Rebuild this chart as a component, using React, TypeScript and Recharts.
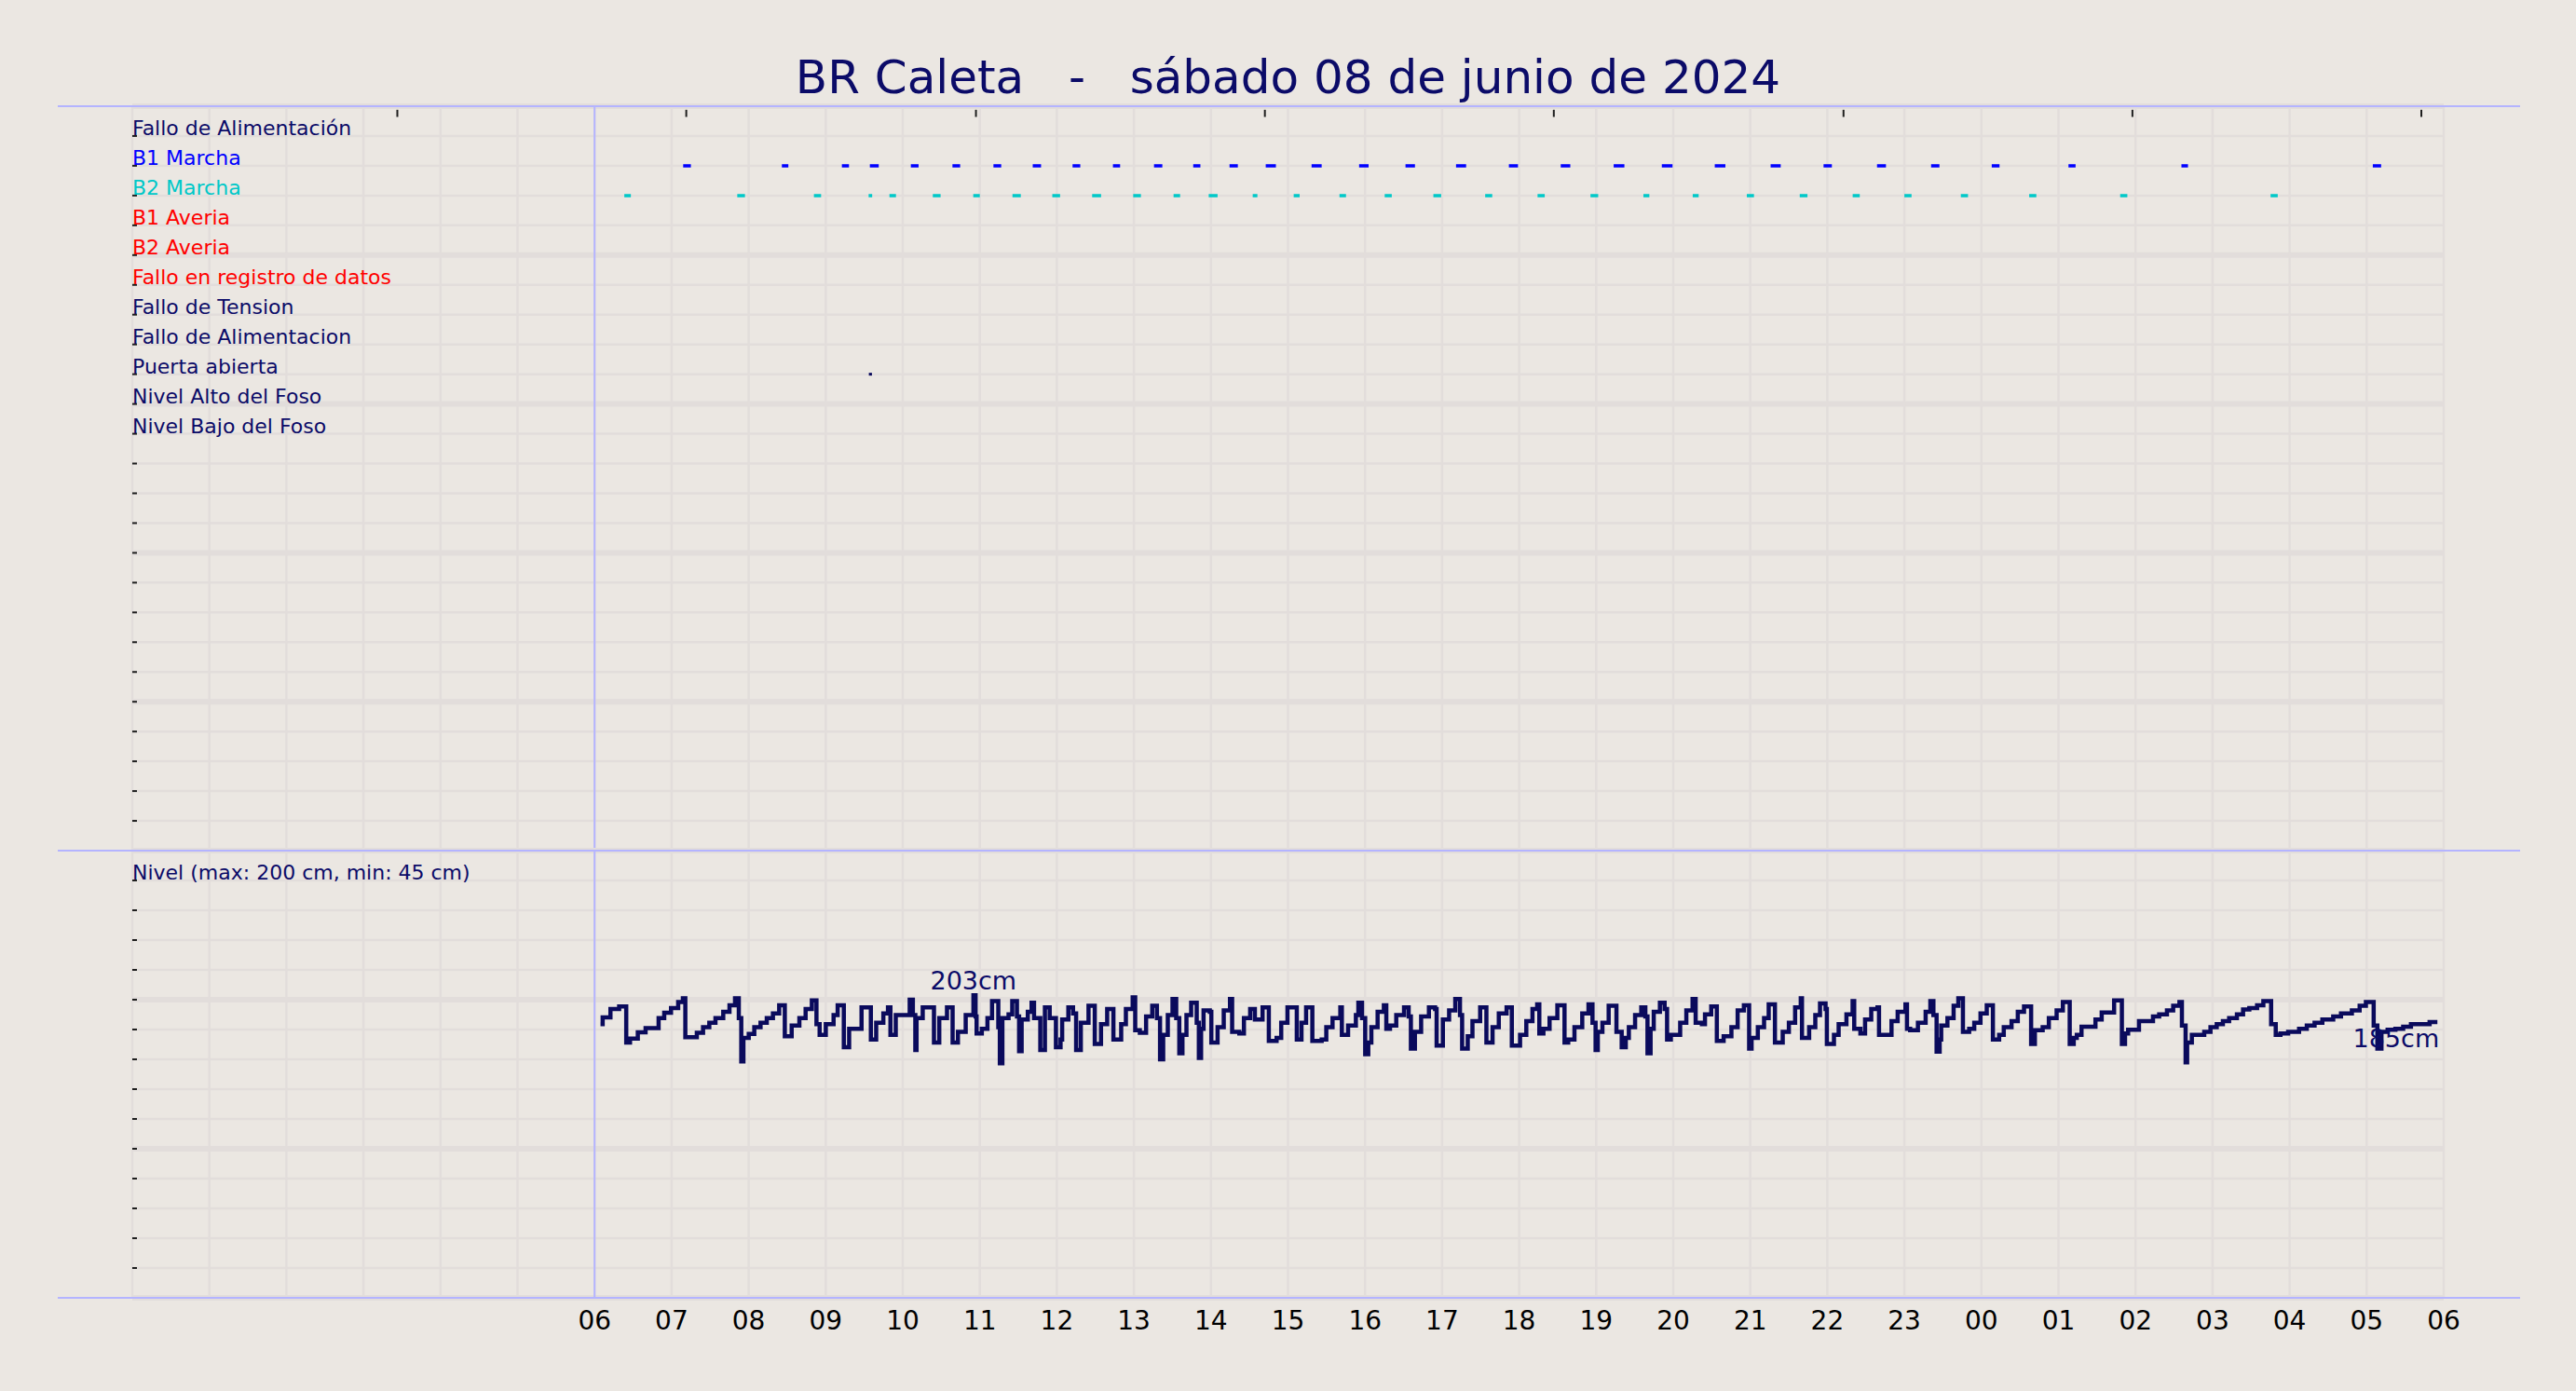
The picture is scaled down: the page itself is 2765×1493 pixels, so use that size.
import React from 'react';
import { LineChart, Line, XAxis, YAxis, CartesianGrid, ReferenceLine, ReferenceDot } from 'recharts';

const FONT = 'DejaVu Sans';
const BG = '#ebe7e2';
const GRID = '#e2dddb';
const FRAME = '#b4b4ff';
const NAVY = '#0b0b68';
const LINE_NAVY = '#0a0a5c';
const TICK_DARK = '#1e1e1e';
const TICK_LEN = 5;

const TITLE = 'BR Caleta   -   sábado 08 de junio de 2024';

// top panel rows (value = row index from top)
const ROW_VALUES = [1, 2, 3, 4, 5, 6, 7, 8, 9, 10, 11];
const ROW_LABELS = [
  'Fallo de Alimentación',
  'B1 Marcha',
  'B2 Marcha',
  'B1 Averia',
  'B2 Averia',
  'Fallo en registro de datos',
  'Fallo de Tension',
  'Fallo de Alimentacion',
  'Puerta abierta',
  'Nivel Alto del Foso',
  'Nivel Bajo del Foso',
];
const ROW_COLORS = [NAVY, '#0000ff', '#00c8c8', '#ff0000', '#ff0000', '#ff0000', NAVY, NAVY, NAVY, NAVY, NAVY];
const ROW_GRID = [0, 1, 2, 3, 4, 5, 6, 7, 8, 9, 10, 11, 12, 13, 14, 15, 16, 17, 18, 19, 20, 21, 22, 23, 24, 25];
const ROW_TICKS = [1, 2, 3, 4, 5, 6, 7, 8, 9, 10, 11, 12, 13, 14, 15, 16, 17, 18, 19, 20, 21, 22, 23, 24];

// time axis (hours from 00:00 of the day before the shown window start)
const HOUR_TICKS = [0, 1, 2, 3, 4, 5, 6, 7, 8, 9, 10, 11, 12, 13, 14, 15, 16, 17, 18, 19, 20, 21, 22, 23, 24, 25, 26, 27, 28, 29, 30];
const FIRST_LABELED_HOUR = 6;
const TOP_TICKS = [3.44, 7.19, 10.95, 14.7, 18.45, 22.21, 25.96, 29.71];
const TOP_TICK_FROM = 0.12;
const TOP_TICK_TO = 0.36;

// level axis
const LEVEL_GRID = [0, 20, 40, 60, 80, 100, 120, 140, 160, 180, 200, 220, 240, 260, 280, 300];
const LEVEL_TICKS = [20, 40, 60, 80, 100, 120, 140, 160, 180, 200, 220, 240, 260, 280];
const LEVEL_CAPTION = 'Nivel (max: 200 cm, min: 45 cm)';
const LEVEL_CAPTION_AT = 280;

// pump runs (hours)
const B1_START = [7.15, 8.431, 9.21, 9.573, 10.105, 10.645, 11.177, 11.687, 12.204, 12.728, 13.261, 13.77, 14.241, 14.711, 15.306, 15.923, 16.525, 17.181, 17.867, 18.54, 19.227, 19.852, 20.539, 21.264, 21.951, 22.645, 23.347, 24.134, 25.13, 26.596, 29.08];
const B1_END = [7.25, 8.515, 9.302, 9.688, 10.205, 10.745, 11.278, 11.795, 12.304, 12.821, 13.369, 13.863, 14.349, 14.843, 15.437, 16.046, 16.648, 17.312, 17.985, 18.664, 19.366, 19.991, 20.677, 21.395, 22.059, 22.761, 23.455, 24.235, 25.222, 26.681, 29.188];
const B2_START = [6.386, 7.852, 8.847, 9.557, 9.827, 10.39, 10.915, 11.424, 11.941, 12.458, 12.991, 13.515, 13.971, 14.542, 15.074, 15.668, 16.255, 16.887, 17.559, 18.239, 18.926, 19.613, 20.253, 20.955, 21.642, 22.329, 23.0, 23.733, 24.62, 25.801, 27.753];
const B2_END = [6.471, 7.952, 8.94, 9.603, 9.912, 10.491, 11.0, 11.532, 12.042, 12.574, 13.091, 13.6, 14.086, 14.603, 15.151, 15.753, 16.347, 16.988, 17.651, 18.332, 19.026, 19.69, 20.33, 21.048, 21.742, 22.421, 23.093, 23.826, 24.713, 25.894, 27.846];
const DOOR_START = [9.56];
const DOOR_END = [9.6];

// level (cm), step values
const LEVEL_T = [
  6.077, 6.105, 6.206, 6.319, 6.411, 6.46, 6.561, 6.662, 6.831, 6.904, 6.992, 7.085, 7.146, 7.178, 7.327, 7.408, 7.489, 7.569, 7.67, 7.751,
  7.823, 7.872, 7.904, 7.932, 8.001, 8.073, 8.154, 8.235, 8.315, 8.396, 8.469, 8.558, 8.658, 8.739, 8.82, 8.88, 8.921, 9.001, 9.102, 9.155,
  9.235, 9.304, 9.465, 9.586, 9.655, 9.748, 9.808, 9.84, 9.909, 10.09, 10.131, 10.163, 10.179, 10.259, 10.405, 10.474, 10.574, 10.647, 10.716, 10.817,
  10.917, 10.945, 10.958, 11.026, 11.099, 11.159, 11.24, 11.26, 11.293, 11.373, 11.421, 11.482, 11.51, 11.543, 11.623, 11.672, 11.704, 11.785, 11.845, 11.907,
  11.988, 12.048, 12.069, 12.149, 12.21, 12.25, 12.311, 12.411, 12.492, 12.573, 12.653, 12.734, 12.835, 12.896, 12.984, 13.017, 13.077, 13.158, 13.238, 13.299,
  13.339, 13.38, 13.44, 13.501, 13.549, 13.589, 13.63, 13.682, 13.743, 13.815, 13.843, 13.872, 13.904, 13.985, 14.005, 14.086, 14.166, 14.247, 14.275, 14.368,
  14.428, 14.509, 14.57, 14.67, 14.751, 14.852, 14.912, 14.993, 15.114, 15.175, 15.235, 15.316, 15.437, 15.497, 15.578, 15.679, 15.699, 15.78, 15.881, 15.913,
  15.961, 16.002, 16.042, 16.082, 16.163, 16.244, 16.276, 16.324, 16.405, 16.506, 16.566, 16.595, 16.647, 16.728, 16.829, 16.909, 16.929, 17.01, 17.091, 17.171,
  17.232, 17.26, 17.333, 17.394, 17.494, 17.575, 17.655, 17.736, 17.837, 17.905, 18.012, 18.093, 18.173, 18.234, 18.262, 18.315, 18.395, 18.496, 18.589, 18.637,
  18.718, 18.819, 18.9, 18.952, 18.992, 19.021, 19.081, 19.162, 19.263, 19.331, 19.384, 19.424, 19.505, 19.585, 19.638, 19.666, 19.706, 19.747, 19.827, 19.888,
  19.92, 19.969, 20.09, 20.17, 20.251, 20.291, 20.372, 20.412, 20.493, 20.566, 20.654, 20.755, 20.836, 20.917, 20.985, 21.017, 21.098, 21.179, 21.239, 21.32,
  21.421, 21.501, 21.582, 21.655, 21.671, 21.764, 21.844, 21.905, 21.977, 21.994, 22.086, 22.147, 22.248, 22.328, 22.349, 22.429, 22.49, 22.57, 22.651, 22.671,
  22.833, 22.913, 23.014, 23.034, 23.075, 23.176, 23.276, 23.337, 23.377, 23.418, 23.458, 23.478, 23.559, 23.639, 23.7, 23.76, 23.841, 23.907, 23.988, 24.069,
  24.149, 24.23, 24.29, 24.391, 24.472, 24.553, 24.645, 24.694, 24.795, 24.875, 24.976, 25.057, 25.146, 25.198, 25.238, 25.299, 25.48, 25.561, 25.722, 25.823,
  25.864, 25.904, 26.045, 26.227, 26.307, 26.408, 26.489, 26.57, 26.602, 26.65, 26.67, 26.731, 26.892, 26.973, 27.054, 27.134, 27.215, 27.316, 27.396, 27.477,
  27.578, 27.659, 27.76, 27.82, 27.881, 27.981, 28.123, 28.223, 28.324, 28.425, 28.566, 28.667, 28.808, 28.909, 28.99, 29.091, 29.139, 29.192, 29.272, 29.373,
  29.474, 29.575, 29.817, 29.918,
];
const LEVEL_CM = [
  183.6, 188.1, 193.8, 195.5, 171.3, 173.9, 178.1, 180.9, 187.7, 191.2, 194.3, 198.4, 201.0, 174.8, 177.8, 181.5, 184.6, 187.7, 191.8, 196.3,
  201.0, 187.7, 158.6, 174.4, 177.0, 181.5, 184.6, 187.7, 190.8, 196.3, 175.4, 182.6, 187.7, 193.8, 199.6, 183.6, 176.4, 183.6, 189.7, 196.3,
  168.2, 180.5, 194.9, 173.3, 184.6, 190.8, 194.9, 176.4, 189.7, 200.0, 189.7, 166.2, 187.7, 194.9, 171.3, 187.7, 194.9, 171.3, 178.5, 189.7,
  203.0, 188.7, 177.4, 180.5, 187.7, 199.0, 181.5, 157.3, 187.7, 190.2, 199.0, 188.7, 165.5, 186.7, 191.8, 197.9, 187.7, 166.2, 194.9, 187.7,
  168.2, 173.3, 186.7, 194.9, 190.8, 166.2, 184.6, 195.9, 170.3, 183.6, 193.8, 173.3, 183.6, 193.8, 201.5, 179.5, 177.8, 188.7, 195.9, 187.7,
  160.0, 176.4, 189.7, 200.4, 187.7, 164.1, 176.4, 189.7, 197.9, 184.6, 161.0, 180.5, 192.8, 191.8, 171.3, 181.5, 192.8, 200.4, 178.5, 177.4,
  187.7, 193.8, 186.7, 194.9, 172.3, 174.4, 184.6, 194.9, 173.3, 184.6, 194.9, 172.3, 173.3, 181.5, 187.7, 194.9, 176.4, 182.6, 189.7, 197.9,
  187.7, 163.5, 171.3, 181.5, 191.8, 196.3, 180.5, 182.6, 189.7, 194.9, 188.7, 167.2, 178.5, 188.7, 194.9, 193.8, 169.2, 186.7, 192.8, 200.4,
  189.7, 167.2, 175.4, 185.6, 194.9, 171.3, 181.5, 190.8, 194.9, 169.2, 176.4, 185.6, 193.8, 196.9, 177.4, 180.5, 187.7, 196.3, 171.3, 173.3,
  181.5, 190.8, 196.9, 184.6, 166.2, 178.5, 184.6, 195.9, 178.5, 168.2, 174.4, 181.5, 189.7, 194.9, 188.7, 164.1, 180.5, 191.8, 197.9, 193.8,
  173.3, 176.4, 184.6, 192.8, 200.4, 184.6, 183.6, 190.2, 195.5, 172.3, 175.4, 181.5, 192.8, 196.3, 167.2, 174.4, 181.5, 187.7, 196.9, 171.3,
  178.5, 184.6, 194.9, 201.0, 174.4, 181.5, 189.7, 197.5, 193.8, 170.3, 176.4, 183.6, 190.2, 199.0, 180.5, 177.4, 186.7, 193.8, 194.9, 176.4,
  185.6, 191.8, 196.9, 180.5, 179.5, 184.6, 191.8, 199.0, 189.7, 165.1, 173.3, 182.6, 187.7, 195.9, 201.0, 178.5, 180.5, 184.6, 190.8, 196.3,
  173.3, 176.4, 181.5, 185.6, 191.8, 195.5, 170.3, 179.5, 181.5, 187.7, 192.8, 198.4, 170.3, 174.4, 176.4, 181.9, 186.7, 191.4, 199.6, 170.3,
  177.4, 179.9, 185.6, 188.7, 190.2, 192.8, 195.9, 198.4, 182.6, 157.9, 171.3, 176.4, 178.5, 181.5, 183.6, 185.6, 187.7, 190.2, 193.4, 194.3,
  196.3, 199.0, 183.6, 176.4, 177.4, 178.5, 180.5, 182.6, 184.6, 186.7, 188.7, 190.8, 192.8, 195.9, 198.4, 182.6, 167.2, 178.5, 179.9, 180.5,
  181.9, 183.6, 185.0, 185.0,
];

const MAX_LABEL_T = 10.917;
const MAX_LABEL_CM = 203;
const MAX_LABEL = '203cm';
const LAST_LABEL = '185cm';

const levelData = LEVEL_T.map((t, i) => ({ t, cm: LEVEL_CM[i] }));
const lastPoint = levelData[levelData.length - 1];

const runsToData = (starts: number[], ends: number[], row: number) =>
  starts.flatMap((s, i) => [
    { t: s, v: row },
    { t: ends[i], v: row },
    { t: ends[i], v: null },
  ]);

const b1Data = runsToData(B1_START, B1_END, 2);
const b2Data = runsToData(B2_START, B2_END, 3);
const doorData = runsToData(DOOR_START, DOOR_END, 9);

const fmtHour = (h: number) => (h < FIRST_LABELED_HOUR ? '' : String(h % 24).padStart(2, '0'));

const hLine = (props: any) => {
  const { x1, x2, y1, y2, index } = props;
  const thick = index % 5 === 0;
  return <line key={`h-${index}`} x1={x1} x2={x2} y1={y1} y2={y2} stroke={GRID} strokeWidth={thick ? 6 : 2.5} />;
};
const vLine = (props: any) => {
  const { x1, x2, y1, y2, index } = props;
  return <line key={`v-${index}`} x1={x1} x2={x2} y1={y1} y2={y2} stroke={GRID} strokeWidth={2.5} />;
};

// left axis (mirrored, tickSize 0): x is the plot's left edge; draws inward tick + optional caption
const makeLeftTick = (visibleTicks: number[], captionFor: (v: number) => { text: string; color: string } | null) =>
  (props: any) => {
    const { x, y, payload } = props;
    const v = payload.value;
    const cap = captionFor(v);
    return (
      <g>
        {visibleTicks.includes(v) && (
          <line x1={x} x2={x + TICK_LEN} y1={y} y2={y} stroke={TICK_DARK} strokeWidth={2} />
        )}
        {cap && (
          <text x={x} y={y - 1} fill={cap.color} fontSize={22} fontFamily={FONT} textAnchor="start">
            {cap.text}
          </text>
        )}
      </g>
    );
  };

const makeRightTick = (visibleTicks: number[]) => (props: any) => {
  const { x, y, payload } = props;
  if (!visibleTicks.includes(payload.value)) return <g />;
  return <line x1={x - TICK_LEN} x2={x} y1={y} y2={y} stroke={TICK_DARK} strokeWidth={2} />;
};

const RowTick = makeLeftTick(ROW_TICKS, (v) => {
  const i = ROW_VALUES.indexOf(v);
  return i < 0 ? null : { text: ROW_LABELS[i], color: ROW_COLORS[i] };
});
const LevelTick = makeLeftTick(LEVEL_TICKS, (v) => (v === LEVEL_CAPTION_AT ? { text: LEVEL_CAPTION, color: NAVY } : null));
const RowRightTick = makeRightTick(ROW_TICKS);
const LevelRightTick = makeRightTick(LEVEL_TICKS);

const EndLabel = (props: any) => {
  const vb = props.viewBox || {};
  const cx = (vb.x ?? 0) + (vb.width ?? 0) / 2;
  const cy = (vb.y ?? 0) + (vb.height ?? 0) / 2;
  return (
    <text x={cx + 2} y={cy + 27} textAnchor="end" fill={NAVY} fontSize={27} fontFamily={FONT}>
      {LAST_LABEL}
    </text>
  );
};

export default function App() {
  return (
    <div
      style={{
        position: 'fixed',
        left: 0,
        top: 0,
        width: 2765,
        height: 1493,
        background: BG,
        overflow: 'hidden',
        fontFamily: FONT,
      }}
    >
      <svg width={2765} height={130} style={{ position: 'absolute', left: 0, top: 0 }}>
        <text
          x={1382.5}
          y={100}
          textAnchor="middle"
          fill={NAVY}
          fontSize={50}
          fontFamily={FONT}
          style={{ whiteSpace: 'pre' }}
        >
          {TITLE}
        </text>
      </svg>

      {/* top panel: events */}
      <div style={{ position: 'absolute', left: 0, top: 0 }}>
        <LineChart width={2765} height={1000} margin={{ top: 114, right: 142, bottom: 87, left: 142 }}>
          <CartesianGrid xAxisId="b" yAxisId="l" horizontal={hLine} vertical={vLine} />
          <XAxis xAxisId="b" dataKey="t" type="number" domain={[0, 30]} ticks={HOUR_TICKS} interval={0} hide />
          <YAxis
            yAxisId="l"
            orientation="left"
            type="number"
            domain={[0, 25]}
            reversed
            ticks={ROW_GRID}
            interval={0}
            width={1}
            mirror
            axisLine={false}
            tickLine={false}
            tickSize={0}
            tickMargin={0}
            tick={RowTick}
          />
          <YAxis
            yAxisId="r"
            orientation="right"
            type="number"
            domain={[0, 25]}
            reversed
            ticks={ROW_GRID}
            interval={0}
            width={1}
            mirror
            axisLine={false}
            tickLine={false}
            tickSize={0}
            tickMargin={0}
            tick={RowRightTick}
          />
          <ReferenceLine xAxisId="b" yAxisId="l" x={6} stroke={FRAME} strokeWidth={2} />
          {TOP_TICKS.map((t) => (
            <ReferenceLine
              key={`tt-${t}`}
              xAxisId="b"
              yAxisId="l"
              segment={[
                { x: t, y: TOP_TICK_FROM },
                { x: t, y: TOP_TICK_TO },
              ]}
              stroke={TICK_DARK}
              strokeWidth={2}
            />
          ))}
          <Line xAxisId="b" yAxisId="l" data={b1Data} dataKey="v" type="linear" stroke="#0000ff" strokeWidth={3.5} dot={false} connectNulls={false} isAnimationActive={false} />
          <Line xAxisId="b" yAxisId="l" data={b2Data} dataKey="v" type="linear" stroke="#00c8c8" strokeWidth={3.5} dot={false} connectNulls={false} isAnimationActive={false} />
          <Line xAxisId="b" yAxisId="l" data={doorData} dataKey="v" type="linear" stroke={LINE_NAVY} strokeWidth={3} dot={false} connectNulls={false} isAnimationActive={false} />
        </LineChart>
      </div>

      {/* bottom panel: level */}
      <div style={{ position: 'absolute', left: 0, top: 850 }}>
        <LineChart width={2765} height={643} margin={{ top: 63, right: 142, bottom: 40, left: 142 }}>
          <CartesianGrid xAxisId="b" yAxisId="l" horizontal={hLine} vertical={vLine} />
          <XAxis
            xAxisId="b"
            dataKey="t"
            type="number"
            domain={[0, 30]}
            ticks={HOUR_TICKS}
            interval={0}
            height={60}
            axisLine={false}
            tickLine={false}
            tickSize={0}
            tickMargin={14}
            tickFormatter={fmtHour}
            tick={{ fill: '#000000', fontSize: 28, fontFamily: FONT }}
          />
          <YAxis
            yAxisId="l"
            orientation="left"
            type="number"
            domain={[0, 300]}
            ticks={LEVEL_GRID}
            interval={0}
            width={1}
            mirror
            axisLine={false}
            tickLine={false}
            tickSize={0}
            tickMargin={0}
            tick={LevelTick}
          />
          <YAxis
            yAxisId="r"
            orientation="right"
            type="number"
            domain={[0, 300]}
            ticks={LEVEL_GRID}
            interval={0}
            width={1}
            mirror
            axisLine={false}
            tickLine={false}
            tickSize={0}
            tickMargin={0}
            tick={LevelRightTick}
          />
          <ReferenceLine xAxisId="b" yAxisId="l" x={6} stroke={FRAME} strokeWidth={2} />
          <Line
            xAxisId="b"
            yAxisId="l"
            data={levelData}
            dataKey="cm"
            type="stepAfter"
            stroke={LINE_NAVY}
            strokeWidth={4.5}
            dot={false}
            isAnimationActive={false}
          />
          <ReferenceDot
            xAxisId="b"
            yAxisId="l"
            x={MAX_LABEL_T}
            y={MAX_LABEL_CM}
            r={1}
            fill="none"
            stroke="none"
            label={{ value: MAX_LABEL, position: 'top', offset: 5, fill: NAVY, fontSize: 27, fontFamily: FONT }}
          />
          <ReferenceDot
            xAxisId="b"
            yAxisId="l"
            x={lastPoint.t}
            y={lastPoint.cm}
            r={1}
            fill="none"
            stroke="none"
            label={<EndLabel />}
          />
        </LineChart>
      </div>

      {/* frame lines */}
      <div style={{ position: 'absolute', left: 62, top: 113, width: 2643, height: 2, background: FRAME }} />
      <div style={{ position: 'absolute', left: 62, top: 912, width: 2643, height: 2, background: FRAME }} />
      <div style={{ position: 'absolute', left: 62, top: 1392, width: 2643, height: 2, background: FRAME }} />
    </div>
  );
}
